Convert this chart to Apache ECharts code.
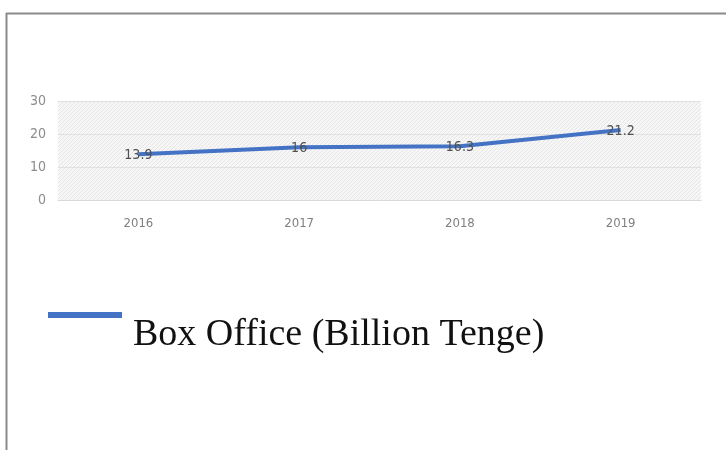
<!DOCTYPE html>
<html><head><meta charset="utf-8">
<script src="https://cdn.jsdelivr.net/npm/echarts@6/dist/echarts.min.js"></script>
<style>html,body{margin:0;padding:0;background:#fff}#c{width:726px;height:450px}</style>
</head><body><div id="c"></div>
<script>
var years = ['2016', '2017', '2018', '2019'];
var boxOffice = [13.9, 16, 16.3, 21.2];
var seriesName = 'Box Office (Billion Tenge)';
var yTicks = [0, 10, 20, 30];

var pc = document.createElement('canvas');
pc.width = 4; pc.height = 4;
var pctx = pc.getContext('2d');
pctx.fillStyle = '#f6f6f6'; pctx.fillRect(0, 0, 4, 4);
pctx.fillStyle = '#e6e6e6';
pctx.fillRect(0, 0, 1, 1); pctx.fillRect(2, 2, 1, 1); pctx.fillRect(1, 3, 1, 1); pctx.fillRect(3, 1, 1, 1);

var narrow = 'Liberation Sans Narrow, DejaVu Sans Condensed, sans-serif';
var chart = echarts.init(document.getElementById('c'));
chart.setOption({
  backgroundColor: '#fff',
  animation: false,
  graphic: [
    {type: 'line', shape: {x1: 6, y1: 13.5, x2: 726, y2: 13.5}, style: {stroke: '#8a8a8a', lineWidth: 2}},
    {type: 'line', shape: {x1: 6.5, y1: 13, x2: 6.5, y2: 450}, style: {stroke: '#8a8a8a', lineWidth: 2}}
  ],
  grid: {left: 58, right: 25, top: 101, height: 99, show: true, backgroundColor: {image: pc, repeat: 'repeat'}, borderWidth: 0},
  xAxis: {
    type: 'category', data: years, boundaryGap: true,
    axisLine: {show: true, lineStyle: {color: '#d9d9d9'}},
    axisTick: {show: false},
    splitLine: {show: false},
    axisLabel: {color: '#7f7f7f', fontSize: 13, fontFamily: narrow, margin: 17}
  },
  yAxis: {
    type: 'value', min: yTicks[0], max: yTicks[yTicks.length - 1], interval: 10,
    axisLine: {show: false}, axisTick: {show: false},
    splitLine: {lineStyle: {color: '#e0e0e0'}},
    axisLabel: {color: '#8c8c8c', fontSize: 14, fontFamily: narrow, margin: 12}
  },
  legend: {
    left: 43, top: 271, orient: 'horizontal',
    data: [{name: seriesName, icon: 'rect'}],
    itemWidth: 74, itemHeight: 6, itemGap: 0,
    formatter: function (n) { return '{t|' + n + '}'; },
    textStyle: {
      rich: {t: {fontSize: 38, fontFamily: 'Liberation Serif, Times New Roman, serif', color: '#111', padding: [40, 0, 0, 6], lineHeight: 40}}
    }
  },
  series: [{
    name: seriesName, type: 'line', data: boxOffice,
    symbol: 'circle', symbolSize: 0.1, showSymbol: true, itemStyle: {color: '#4472c4'},
    lineStyle: {color: '#4472c4', width: 4},
    label: {show: true, position: 'top', distance: 0, offset: [0, 8], color: '#505050', fontSize: 14, fontFamily: narrow}
  }]
});
</script></body></html>
